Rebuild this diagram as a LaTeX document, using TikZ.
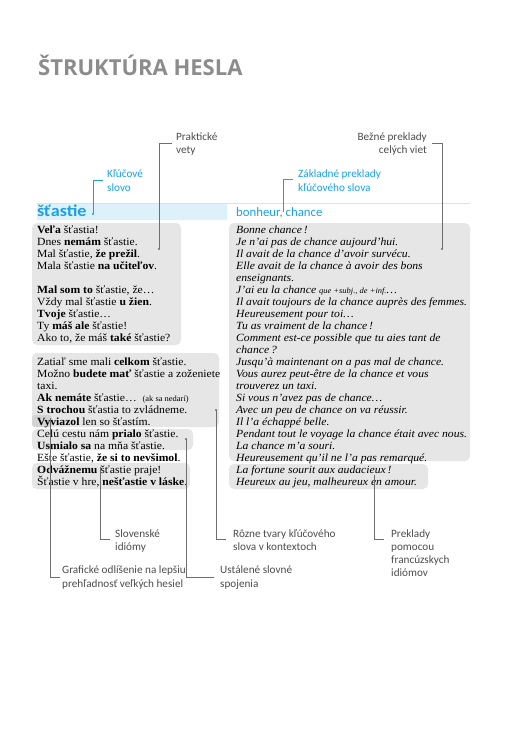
\documentclass[tikz,border=0pt]{standalone}
\usepackage{fontspec}
\setmainfont[FakeStretch=1.06]{Liberation Serif}
\newfontfamily\labfont{Carlito}
\newfontfamily\hwfont[FakeStretch=1.1]{Carlito}
\newfontfamily\trfont{Carlito}
\newfontfamily\ttlfont{Open Sans}
\definecolor{blu}{HTML}{1BA1E2}
\definecolor{bandc}{HTML}{DDF1FB}
\definecolor{bandl}{HTML}{CBE8F7}
\definecolor{boxg}{HTML}{E6E6E7}
\definecolor{patchg}{HTML}{D3D3D4}
\definecolor{lineg}{HTML}{6E6E6E}
\definecolor{labg}{HTML}{4D4D4D}
\definecolor{titleg}{HTML}{8C8C8C}
\tikzset{
  body/.style={anchor=base west, inner sep=0pt, font=\fontsize{11}{12}\selectfont},
  bodyit/.style={body, font=\fontsize{11}{12}\selectfont\itshape},
  lab/.style={anchor=base west, inner sep=0pt, font=\labfont\fontsize{11.2}{13}\selectfont, text=labg},
  labr/.style={lab, anchor=base east},
  blab/.style={lab, text=blu},
  gbox/.style={fill=boxg, rounded corners=5pt},
  conn/.style={draw=lineg, line width=0.7pt},
  bconn/.style={draw=blu, line width=0.7pt},
  dot/.style={fill=lineg},
}
\newcommand{\smalltxt}[1]{{\fontsize{8}{10}\selectfont #1}}
\begin{document}
\begin{tikzpicture}[x=1pt,y=-1pt]
\useasboundingbox[fill=white] (0,0) rectangle (522,750);

% title
\node[anchor=base west, inner sep=0pt, font=\ttlfont\bfseries\fontsize{22}{26}\selectfont, text=titleg] (title) at (38,75) {ŠTRUKTÚRA HESLA};

% band
\fill[bandc] (37,203) rectangle (227,220);
\draw[bandl, line width=1pt] (37,203.5) -- (470,203.5);

% gray boxes
\fill[gbox] (32,223) rectangle (181,345);
\fill[gbox] (32,353) rectangle (219,427);
\fill[patchg, rounded corners=3pt] (32,415) rectangle (52,427);
\fill[gbox] (32,429) rectangle (193,450);
\fill[gbox] (32,463) rectangle (190,489);
\fill[gbox] (229,223) rectangle (470,461);
\fill[gbox] (229,464) rectangle (428,489);

% headwords
\node[anchor=base west, inner sep=0pt, font=\hwfont\bfseries\fontsize{16.5}{20}\selectfont, text=blu] (hw) at (37,216) {šťastie};
\node[anchor=base west, inner sep=0pt, font=\trfont\fontsize{12.8}{15}\selectfont, text=blu] (tr) at (236,216) {bonheur, chance};

% left column
\node[body] (l0) at (37,233) {\textbf{Veľa} šťastia!};
\node[body] (l1) at (37,245) {Dnes \textbf{nemám} šťastie.};
\node[body] (l2) at (37,257) {Mal šťastie, \textbf{že prežil}.};
\node[body] (l3) at (37,269) {Mala šťastie \textbf{na učiteľov}.};
\node[body] (l5) at (37,293) {\textbf{Mal som to} šťastie, že…};
\node[body] (l6) at (37,305) {Vždy mal šťastie \textbf{u žien}.};
\node[body] (l7) at (37,317) {\textbf{Tvoje} šťastie…};
\node[body] (l8) at (37,329) {Ty \textbf{máš ale} šťastie!};
\node[body] (l9) at (37,341) {Ako to, že máš \textbf{také} šťastie?};
\node[body] (l11) at (37,365) {Zatiaľ sme mali \textbf{celkom} šťastie.};
\node[body] (l12) at (37,377) {Možno \textbf{budete mať} šťastie a zoženiete};
\node[body] (l13) at (37,389) {taxi.};
\node[body] (l14) at (37,401) {\textbf{Ak nemáte} šťastie…\ \ \smalltxt{(ak sa nedarí)}};
\node[body] (l15) at (37,413) {\textbf{S trochou} šťastia to zvládneme.};
\node[body] (l16) at (37,425) {\textbf{Vyviazol} len so šťastím.};
\node[body] (l17) at (37,437) {Celú cestu nám \textbf{prialo} šťastie.};
\node[body] (l18) at (37,449) {\textbf{Usmialo sa} na mňa šťastie.};
\node[body] (l19) at (37,461) {Ešte šťastie, \textbf{že si to nevšimol}.};
\node[body] (l20) at (37,473) {\textbf{Odvážnemu} šťastie praje!};
\node[body] (l21) at (37,485) {Šťastie v hre, \textbf{nešťastie v láske}.};

% right column
\node[bodyit] (r0) at (236,233) {Bonne chance\,!};
\node[bodyit] (r1) at (236,245) {Je n’ai pas de chance aujourd’hui.};
\node[bodyit] (r2) at (236,257) {Il avait de la chance d’avoir survécu.};
\node[bodyit] (r3) at (236,269) {Elle avait de la chance à avoir des bons};
\node[bodyit] (r4) at (236,281) {enseignants.};
\node[bodyit] (r5) at (236,293) {J’ai eu la chance \smalltxt{que +subj., de +inf.}…};
\node[bodyit] (r6) at (236,305) {Il avait toujours de la chance auprès des femmes.};
\node[bodyit] (r7) at (236,317) {Heureusement pour toi…};
\node[bodyit] (r8) at (236,329) {Tu as vraiment de la chance\,!};
\node[bodyit] (r9) at (236,341) {Comment est-ce possible que tu aies tant de};
\node[bodyit] (r10) at (236,353) {chance\,?};
\node[bodyit] (r11) at (236,365) {Jusqu’à maintenant on a pas mal de chance.};
\node[bodyit] (r12) at (236,377) {Vous aurez peut-être de la chance et vous};
\node[bodyit] (r13) at (236,389) {trouverez un taxi.};
\node[bodyit] (r14) at (236,401) {Si vous n’avez pas de chance…};
\node[bodyit] (r15) at (236,413) {Avec un peu de chance on va réussir.};
\node[bodyit] (r16) at (236,425) {Il l’a échappé belle.};
\node[bodyit] (r17) at (236,437) {Pendant tout le voyage la chance était avec nous.};
\node[bodyit] (r18) at (236,449) {La chance m’a souri.};
\node[bodyit] (r19) at (236,461) {Heureusement qu’il ne l’a pas remarqué.};
\node[bodyit] (r20) at (236,473) {La fortune sourit aux audacieux\,!};
\node[bodyit] (r21) at (236,485) {Heureux au jeu, malheureux en amour.};

% top labels
\node[lab] (pk1) at (176,140) {Praktické};
\node[lab] (pk2) at (176,153) {vety};
\node[blab] (kl1) at (107,177) {Kľúčové};
\node[blab] (kl2) at (107,191) {slovo};
\node[labr] (bz1) at (427,140) {Bežné preklady};
\node[labr] (bz2) at (427,153) {celých viet};
\node[blab] (zk1) at (298,177) {Základné preklady};
\node[blab] (zk2) at (298,191) {kľúčového slova};

% bottom labels
\node[lab] (sl1) at (115,537) {Slovenské};
\node[lab] (sl2) at (115,550) {idiómy};
\node[lab] (gr1) at (62,573) {Grafické odlíšenie na lepšiu};
\node[lab] (gr2) at (62,587) {prehľadnosť veľkých hesiel};
\node[lab] (rz1) at (233,537) {Rôzne tvary kľúčového};
\node[lab] (rz2) at (233,550) {slova v kontextoch};
\node[lab] (us1) at (220,573) {Ustálené slovné};
\node[lab] (us2) at (220,587) {spojenia};
\node[lab] (pr1) at (391,537) {Preklady};
\node[lab] (pr2) at (391,550) {pomocou};
\node[lab] (pr3) at (391,563) {francúzskych};
\node[lab] (pr4) at (391,576) {idiómov};

% connector coordinates
\coordinate (pkS) at (172,143); \coordinate (pkE) at (159,249);
\coordinate (klS) at (103,180); \coordinate (klE) at (93,214);
\coordinate (bzS) at (432,143); \coordinate (bzE) at (442,249);
\coordinate (zkS) at (293,179); \coordinate (zkE) at (283,212);
\coordinate (slS) at (110,539); \coordinate (slE) at (100,467);
\coordinate (grS) at (60,577);  \coordinate (grE) at (50,418);
\coordinate (rzS) at (226,539); \coordinate (rzE) at (216,410);
\coordinate (usS) at (214,577); \coordinate (usE) at (186,439);
\coordinate (prS) at (384,539); \coordinate (prE) at (374,475);

% connectors
\draw[conn] (pkS) -| (pkE);
\fill[dot] (pkE) circle (1.1);
\draw[bconn] (klS) -| (klE);
\fill[blu] (klE) circle (1.1);
\draw[conn] (bzS) -| (bzE);
\fill[dot] (bzE) circle (1.1);
\draw[bconn] (zkS) -| (zkE);
\draw[conn] (slS) -| (slE);
\draw[conn] (grS) -| (grE);
\draw[conn] (rzS) -| (rzE);
\fill[dot] (rzE) circle (1.1);
\draw[conn] (usS) -| (usE);
\fill[dot] (usE) circle (1.1);
\draw[conn] (prS) -| (prE);
\end{tikzpicture}
\end{document}
